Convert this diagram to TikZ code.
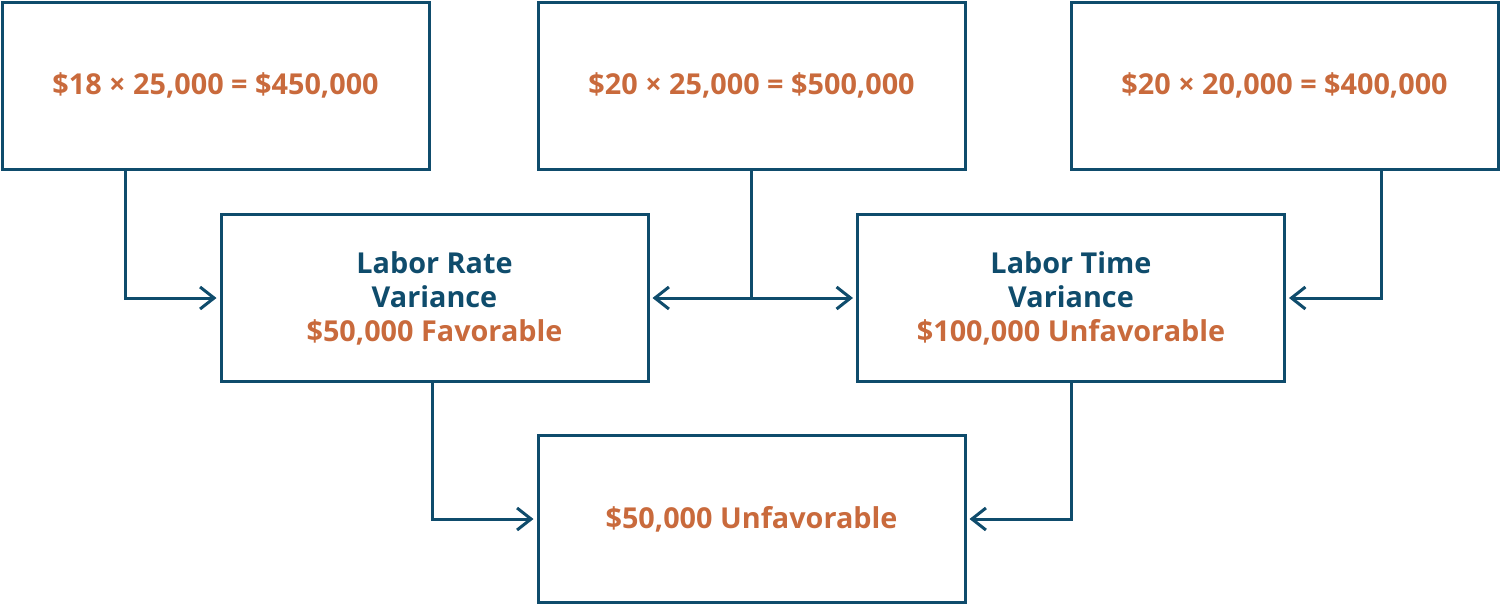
\documentclass[tikz,border=0pt]{standalone}
\usepackage{fontspec}
\setmainfont{Open Sans}
\usetikzlibrary{arrows.meta}
\definecolor{navy}{HTML}{0F4C6C}
\definecolor{rust}{HTML}{C96A3C}
\tikzset{
  box/.style={draw=navy,line width=3pt,minimum width=427pt,minimum height=167pt,
    inner sep=0pt,align=center,font=\fontsize{28.8}{34}\selectfont\bfseries},
  link/.style={draw=navy,line width=3pt,shorten >=3pt,
    -{Straight Barb[length=14pt,width=22pt,line width=3pt]}},
}
\begin{document}
\begin{tikzpicture}[x=1pt,y=-1pt]
\useasboundingbox (0,0) rectangle (1500,605);

% top row
\node[box] (actual) at (215.5,85.5) {\color{rust}\$18 × 25,000 = \$450,000};
\node[box] (mixed) at (751.5,85.5) {\color{rust}\$20 × 25,000 = \$500,000};
\node[box] (standard) at (1284.5,85.5) {\color{rust}\$20 × 20,000 = \$400,000};

% variances
\node[box] (rate) at (434.5,298) {\color{navy}Labor Rate\\\color{navy}Variance\\\color{rust}\$50,000 Favorable};
\node[box] (time) at (1071,298) {\color{navy}Labor Time\\\color{navy}Variance\\\color{rust}\$100,000 Unfavorable};

% total
\node[box] (total) at (751.5,519) {\color{rust}\$50,000 Unfavorable};

% connectors
\draw[link] (actual.south -| 125,0) |- (rate.west);
\draw[link] (mixed.south) |- (rate.east);
\draw[link] (mixed.south) |- (time.west);
\draw[link] (standard.south -| 1381,0) |- (time.east);
\draw[link] (rate.south -| 432,0) |- (total.west);
\draw[link] (time.south) |- (total.east);
\end{tikzpicture}
\end{document}
